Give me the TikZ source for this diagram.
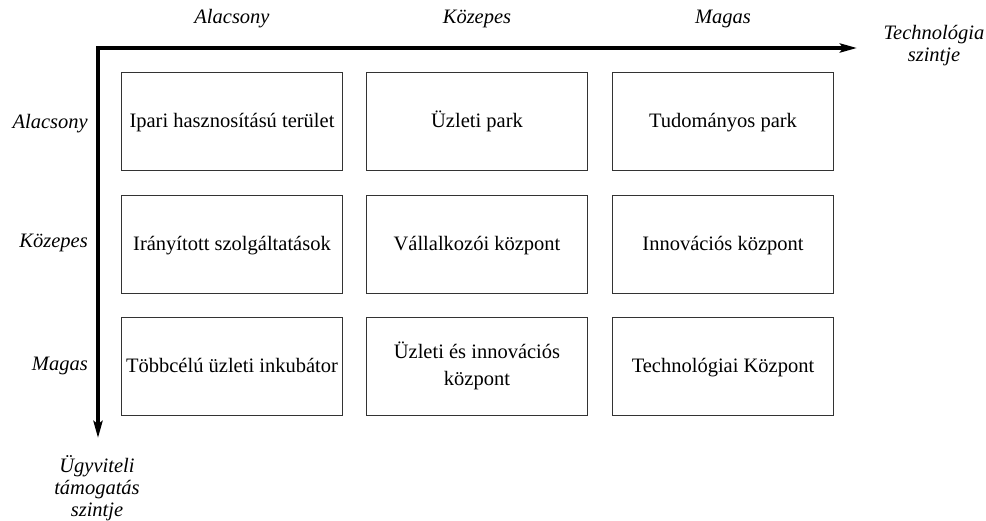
\documentclass[tikz,border=0pt]{standalone}
\usepackage{fontspec}
\setmainfont{Liberation Serif}
\usetikzlibrary{arrows.meta}

\tikzstyle{cell}=[draw=black!80,line width=0.9pt,rectangle,minimum width=221pt,minimum height=98pt,inner sep=0pt,align=center,font=\fontsize{20.5}{27}\selectfont,execute at begin node={\vphantom{ÜÍp}}]
\tikzstyle{axis} = [draw,line width=3.6pt,line join=miter,{Stealth[length=17pt,width=9pt,inset=3pt]}-{Stealth[length=17pt,width=9pt,inset=3pt]}]
\tikzstyle{level} = [font=\fontsize{20.5}{22}\selectfont\itshape,align=center,inner sep=0pt]

\begin{document}
\begin{tikzpicture}[x=1pt, y=-1pt]
    \useasboundingbox (0,0) rectangle (986,521);
    % First we draw the boxes
    \foreach \pos/\name/\txt in {{(232,121)/ll/Ipari hasznosítású terület}, {(477,121)/lm/Üzleti park}, {(723,121)/lh/Tudományos park},
        {(232,244)/ml/Irányított szolgáltatások}, {(477,244)/mm/Vállalkozói központ}, {(723,244)/mh/Innovációs központ},
        {(232,366)/hl/Többcélú üzleti inkubátor}, {(477,366)/hm/Üzleti és innovációs\\központ}, {(723,366)/hh/Technológiai Központ}}
        \node[cell] (\name) at \pos {\txt};
    % Then the two axes
    \coordinate (origin) at (98,48);
    \coordinate (xend) at (857,48);
    \coordinate (yend) at (98,438);
    \path[axis] (xend) -- (origin) -- (yend);
    % Level labels
    \foreach \pos/\name/\txt in {{(232,19)/xlow/Alacsony}, {(477,19)/xmid/Közepes}, {(723,19)/xhigh/Magas}}
        \node[level] (\name) at \pos {\txt};
    \foreach \pos/\name/\txt in {{(88,124)/ylow/Alacsony}, {(88,243)/ymid/Közepes}, {(88,366)/yhigh/Magas}}
        \node[level,anchor=east] (\name) at \pos {\txt};
    \node[level] (xtitle) at (934,46) {Technológia\\szintje};
    \node[level] (ytitle) at (97,488) {Ügyviteli\\támogatás\\szintje};
\end{tikzpicture}
\end{document}
